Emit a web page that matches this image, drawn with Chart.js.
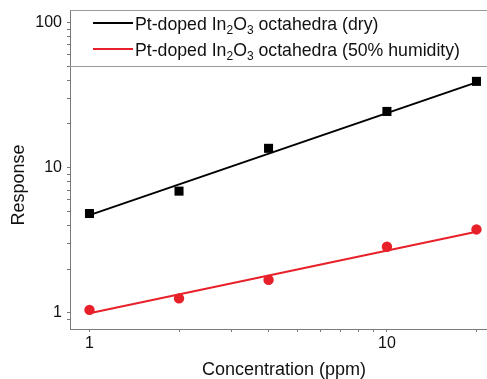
<!DOCTYPE html>
<html lang="en">
<head>
    <meta charset="UTF-8">
    <title>Pt-doped In2O3 octahedra response</title>
    <script src="https://cdn.jsdelivr.net/npm/chart.js"></script>
    <style>
        body {
            margin: 0;
            background: white;
        }
        canvas {
            display: block;
        }
    </style>
</head>
<body>
    <canvas id="responseChart" width="487" height="379"></canvas>

    <script>
        // Measured points
        const concentration = [1, 2, 4, 10, 20];
        const dryResponse = [4.84, 6.90, 13.6, 24.4, 39.3];
        const humidResponse = [1.05, 1.26, 1.69, 2.86, 3.76];

        // Linear fits in log-log space (end points)
        const fitConcentration = [1, 20];
        const dryFit = [4.72, 38.7];
        const humidFit = [0.995, 3.62];

        // Labelled ticks
        const xTickLabels = [1, 10];
        const yTickLabels = [1, 10, 100];

        const fontFamily = '"Liberation Sans", Arial, sans-serif';
        const red = '#e8202a';
        const axisGray = '#7a7a7a';

        const toPoints = (xs, ys) => xs.map((x, i) => ({ x: x, y: ys[i] }));

        // Keep only ticks on 1..9 x 10^n
        function cleanLogTicks(scale) {
            scale.ticks = scale.ticks.filter(t => {
                const exp = Math.floor(Math.log10(t.value) + 1e-9);
                const s = t.value / Math.pow(10, exp);
                return Math.abs(s - Math.round(s)) < 1e-6;
            });
        }

        // no extra label padding, so the plot area stays where the layout puts it
        function noPadding(scale) {
            scale.paddingTop = 0;
            scale.paddingBottom = 0;
            scale.paddingLeft = 0;
            scale.paddingRight = 0;
        }

        // Legend box with subscripted formula, frame lines and axis titles
        const decorations = {
            id: 'decorations',
            afterDraw(chart) {
                const ctx = chart.ctx;
                const area = chart.chartArea;
                ctx.save();

                // top border and legend separator
                ctx.strokeStyle = '#9a9a9a';
                ctx.lineWidth = 1;
                ctx.beginPath();
                ctx.moveTo(area.left, area.top + 0.5);
                ctx.lineTo(area.right, area.top + 0.5);
                ctx.moveTo(area.left, 66.5);
                ctx.lineTo(area.right, 66.5);
                ctx.stroke();

                const entries = [
                    { color: '#000', tail: ' octahedra (dry)', y: 23 },
                    { color: red, tail: ' octahedra (50% humidity)', y: 49 }
                ];
                const big = '17.7px ' + fontFamily;
                const small = '12px ' + fontFamily;
                entries.forEach(e => {
                    ctx.strokeStyle = e.color;
                    ctx.lineWidth = 2;
                    ctx.beginPath();
                    ctx.moveTo(93, e.y);
                    ctx.lineTo(133, e.y);
                    ctx.stroke();

                    ctx.fillStyle = '#111';
                    ctx.textBaseline = 'alphabetic';
                    ctx.textAlign = 'left';
                    const base = e.y + 6.5;
                    let x = 135;
                    const parts = [
                        ['Pt-doped In', big, 0],
                        ['2', small, 4],
                        ['O', big, 0],
                        ['3', small, 4],
                        [e.tail, big, 0]
                    ];
                    parts.forEach(([txt, font, dy]) => {
                        ctx.font = font;
                        ctx.fillText(txt, x, base + dy);
                        x += ctx.measureText(txt).width;
                    });
                });

                // axis titles
                ctx.fillStyle = '#111';
                ctx.font = '18px ' + fontFamily;
                ctx.textAlign = 'center';
                ctx.textBaseline = 'middle';
                ctx.fillText('Concentration (ppm)', 284, 370);
                ctx.translate(19, 185);
                ctx.rotate(-Math.PI / 2);
                ctx.fillText('Response', 0, 0);
                ctx.restore();
            }
        };

        const ctxChart = document.getElementById('responseChart').getContext('2d');
        const chart = new Chart(ctxChart, {
            type: 'scatter',
            data: {
                datasets: [
                    {
                        label: 'dry fit',
                        type: 'line',
                        data: toPoints(fitConcentration, dryFit),
                        borderColor: '#000',
                        borderWidth: 2,
                        pointRadius: 0,
                        order: 2
                    },
                    {
                        label: 'humid fit',
                        type: 'line',
                        data: toPoints(fitConcentration, humidFit),
                        borderColor: red,
                        borderWidth: 2,
                        pointRadius: 0,
                        order: 2
                    },
                    {
                        label: 'Pt-doped In2O3 octahedra (dry)',
                        data: toPoints(concentration, dryResponse),
                        pointStyle: 'rect',
                        pointRadius: 6.4,
                        backgroundColor: '#000',
                        borderColor: '#000',
                        borderWidth: 0,
                        order: 1
                    },
                    {
                        label: 'Pt-doped In2O3 octahedra (50% humidity)',
                        data: toPoints(concentration, humidResponse),
                        pointStyle: 'circle',
                        pointRadius: 5.2,
                        backgroundColor: red,
                        borderColor: red,
                        borderWidth: 0,
                        order: 1
                    }
                ]
            },
            options: {
                responsive: false,
                animation: false,
                devicePixelRatio: 1,
                layout: { autoPadding: false, padding: { top: 10, right: 0, left: 0, bottom: 0 } },
                plugins: {
                    legend: { display: false },
                    tooltip: { enabled: false }
                },
                scales: {
                    x: {
                        type: 'logarithmic',
                        min: 0.86,
                        max: 21.7,
                        afterBuildTicks: cleanLogTicks,
                        afterFit: scale => { scale.height = 50; noPadding(scale); },
                        border: { color: axisGray, width: 1 },
                        grid: { drawOnChartArea: false, drawTicks: true, tickLength: 3, tickColor: axisGray },
                        ticks: {
                            autoSkip: false,
                            maxRotation: 0,
                            padding: 2,
                            color: '#111',
                            font: { family: fontFamily, size: 16 },
                            callback: v => xTickLabels.includes(v) ? String(v) : ''
                        }
                    },
                    y: {
                        type: 'logarithmic',
                        min: 0.776,
                        max: 121.8,
                        afterBuildTicks: cleanLogTicks,
                        afterFit: scale => { scale.width = 70; noPadding(scale); },
                        border: { color: axisGray, width: 1 },
                        grid: { drawOnChartArea: false, drawTicks: true, tickLength: 3, tickColor: axisGray },
                        ticks: {
                            autoSkip: false,
                            padding: 5,
                            color: '#111',
                            font: { family: fontFamily, size: 16 },
                            callback: v => yTickLabels.includes(v) ? String(v) : ''
                        }
                    }
                }
            },
            plugins: [decorations]
        });
    </script>
</body>
</html>
